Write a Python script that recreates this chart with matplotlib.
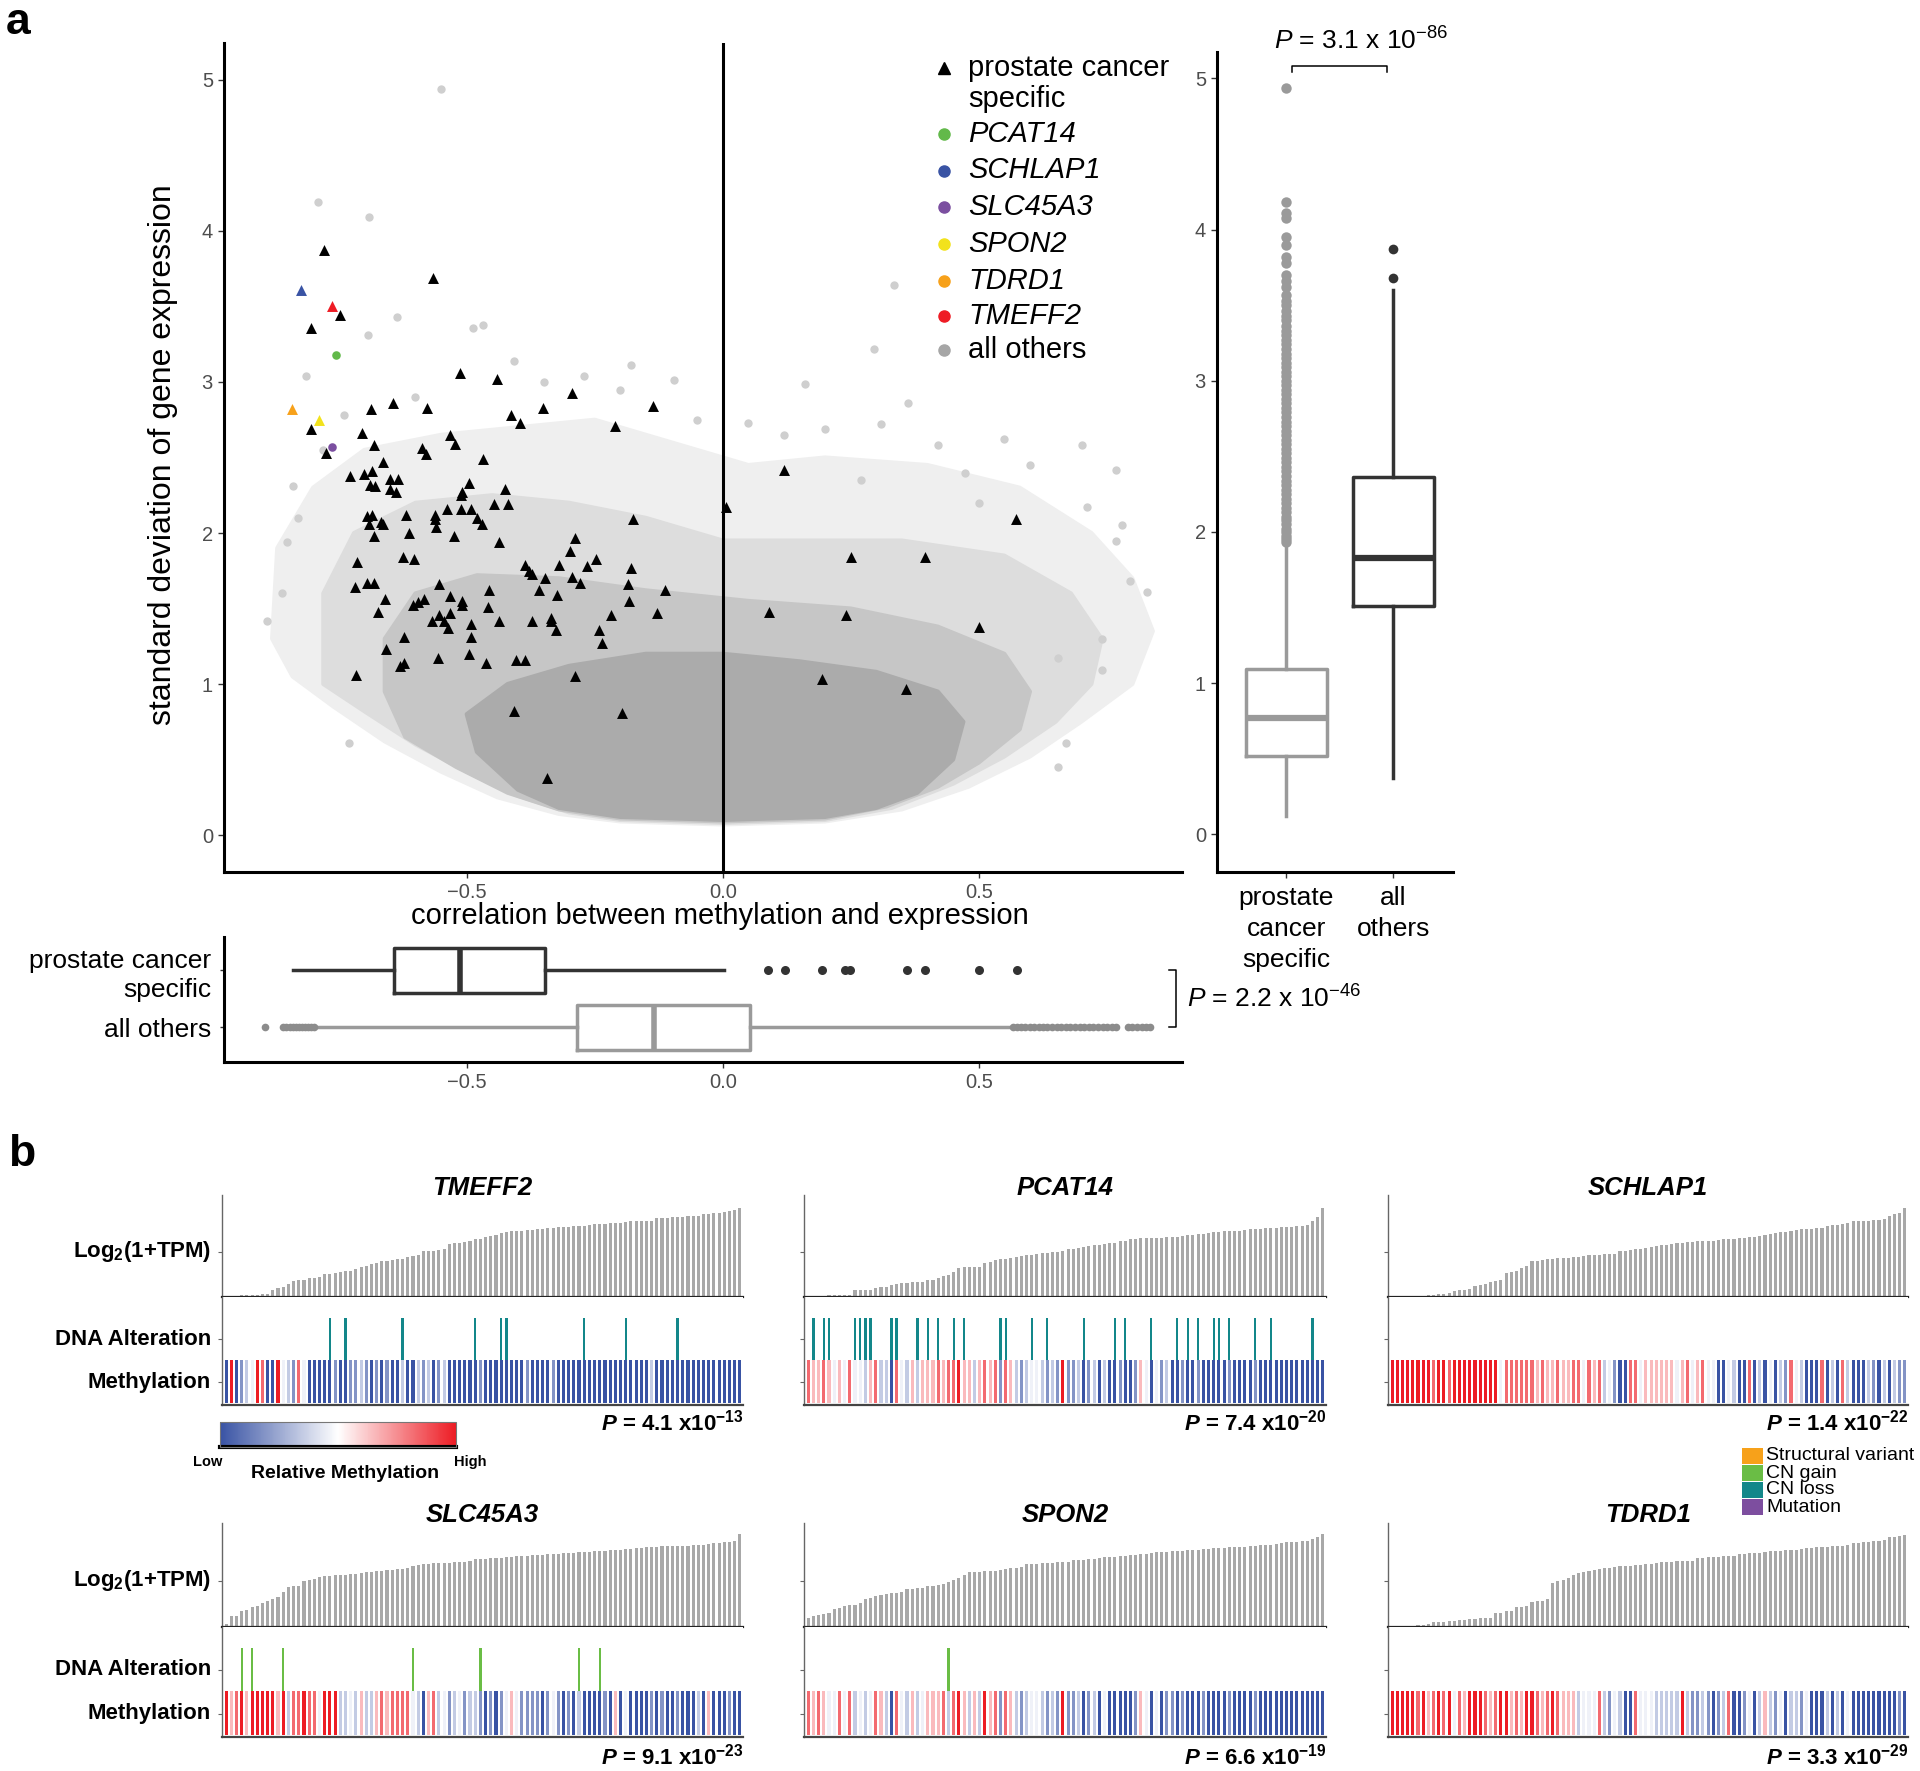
import numpy as np
import matplotlib
matplotlib.use("Agg")
import matplotlib.pyplot as plt
from matplotlib.lines import Line2D
from matplotlib.patches import Polygon, Rectangle
from matplotlib.colors import LinearSegmentedColormap, Normalize
from matplotlib.cm import ScalarMappable

plt.rcParams['font.family'] = ['Liberation Sans', 'DejaVu Sans']
plt.rcParams['mathtext.fontset'] = 'custom'
plt.rcParams['mathtext.rm'] = 'Liberation Sans'
plt.rcParams['mathtext.it'] = 'Liberation Sans:italic'
plt.rcParams['mathtext.bf'] = 'Liberation Sans:bold'
plt.rcParams['mathtext.bfit'] = 'Liberation Sans:bold:italic'

# ---------------- data: panel a ----------------
# prostate cancer specific genes (black triangles)
spec_corr = [-0.779, -0.566, -0.804, -0.748, -0.514, -0.441, -0.294, -0.136, -0.351, -0.687, -0.643, -0.577,
             -0.413, -0.395, -0.211, -0.804, -0.705, -0.532, -0.523, -0.681, -0.587, -0.580, -0.774, -0.468,
             -0.664, -0.727, -0.700, -0.684, -0.688, -0.679, -0.649, -0.634, -0.649, -0.639, -0.495, -0.509,
             -0.512, -0.425, -0.539, -0.512, -0.491, -0.446, -0.420, -0.562, -0.562, -0.480, -0.471, -0.694,
             -0.619, -0.684, -0.691, -0.667, -0.663, -0.559, -0.613, -0.682, -0.524, -0.437, -0.288, -0.176,
             0.006, 0.120, 0.572, 0.251, 0.396, -0.715, -0.625, -0.602, -0.298, -0.248, -0.387, -0.378,
             -0.265, -0.319, -0.372, -0.348, -0.294, -0.279, -0.179, -0.554, -0.456, -0.358, -0.324, -0.113,
             -0.718, -0.694, -0.682, -0.185, -0.660, -0.583, -0.595, -0.605, -0.532, -0.509, -0.509, -0.458,
             -0.184, -0.673, -0.554, -0.533, -0.568, -0.544, -0.437, -0.372, -0.336, -0.336, -0.491, -0.536,
             -0.325, -0.218, -0.128, -0.241, 0.090, 0.241, 0.501, -0.622, -0.491, -0.236, -0.658, -0.496,
             -0.556, -0.462, -0.404, -0.387, -0.623, -0.631, -0.717, -0.289, 0.193, 0.358, -0.408, -0.197,
             -0.343]
spec_sd = [3.875, 3.686, 3.36, 3.443, 3.06, 3.02, 2.93, 2.84, 2.83, 2.82, 2.86, 2.83,
           2.78, 2.73, 2.71, 2.69, 2.66, 2.65, 2.59, 2.58, 2.56, 2.52, 2.53, 2.49,
           2.47, 2.38, 2.39, 2.41, 2.32, 2.31, 2.36, 2.36, 2.29, 2.27, 2.33, 2.27,
           2.25, 2.29, 2.16, 2.16, 2.16, 2.19, 2.19, 2.12, 2.09, 2.10, 2.06, 2.11,
           2.12, 2.12, 2.06, 2.07, 2.06, 2.04, 2.00, 1.98, 1.98, 1.94, 1.97, 2.09,
           2.17, 2.42, 2.09, 1.84, 1.84, 1.81, 1.84, 1.83, 1.88, 1.83, 1.79, 1.75,
           1.78, 1.79, 1.73, 1.70, 1.71, 1.67, 1.77, 1.66, 1.62, 1.62, 1.59, 1.62,
           1.64, 1.67, 1.67, 1.66, 1.56, 1.56, 1.54, 1.52, 1.58, 1.55, 1.52, 1.51,
           1.55, 1.48, 1.46, 1.47, 1.42, 1.42, 1.42, 1.42, 1.44, 1.42, 1.40, 1.37,
           1.36, 1.46, 1.47, 1.36, 1.48, 1.46, 1.38, 1.31, 1.31, 1.27, 1.23, 1.20,
           1.17, 1.14, 1.16, 1.16, 1.14, 1.12, 1.06, 1.05, 1.03, 0.97, 0.82, 0.81,
           0.38]

hl_names = ['PCAT14', 'SCHLAP1', 'SLC45A3', 'SPON2', 'TDRD1', 'TMEFF2']
hl_corr = [-0.755, -0.824, -0.764, -0.789, -0.842, -0.764]
hl_sd = [3.18, 3.61, 2.57, 2.75, 2.82, 3.50]
hl_marker = ['o', '^', 'o', '^', '^', '^']
hl_colors = ['#62b94a', '#3953a4', '#7b4fa0', '#f2e21c', '#f7a11a', '#ee1c25']

# sparse "all others" genes outside the dense cloud
other_corr = [-0.551, -0.791, -0.690, 0.334, 0.295, -0.637, -0.693, -0.813, -0.488, -0.468, -0.408, -0.27,
              -0.18, -0.096, 0.161, 0.361, 0.702, 0.768, 0.712, 0.828, 0.795, -0.89, -0.851, -0.84,
              -0.73, 0.67, 0.655, 0.05, 0.2, 0.31, 0.474, 0.654, 0.741, 0.768, -0.86, -0.83, -0.78,
              -0.74, 0.12, 0.42, 0.55, 0.6, 0.78, 0.74, -0.2, -0.05, 0.27, 0.5, -0.35, -0.6]
other_sd = [4.94, 4.19, 4.09, 3.64, 3.22, 3.43, 3.31, 3.04, 3.36, 3.38, 3.14, 3.04,
            3.11, 3.01, 2.99, 2.86, 2.58, 2.42, 2.17, 1.61, 1.68, 1.42, 1.94, 2.31,
            0.61, 0.61, 0.45, 2.73, 2.69, 2.72, 2.40, 1.17, 1.09, 1.95, 1.6, 2.1, 2.55,
            2.78, 2.65, 2.58, 2.62, 2.45, 2.05, 1.3, 2.95, 2.75, 2.35, 2.2, 3.0, 2.9]

# outlines of the cloud of "all others" genes, from sparse (outer) to dense (core)
cloud_outer = [(-0.88, 1.3), (-0.84, 1.05), (-0.76, 0.85), (-0.66, 0.62), (-0.55, 0.42), (-0.44, 0.25),
               (-0.32, 0.14), (-0.2, 0.09), (0.0, 0.07), (0.2, 0.09), (0.35, 0.17), (0.48, 0.32),
               (0.6, 0.52), (0.7, 0.75), (0.8, 1.0), (0.84, 1.35), (0.8, 1.7), (0.72, 2.0), (0.58, 2.3),
               (0.4, 2.45), (0.2, 2.5), (0.05, 2.45), (-0.1, 2.6), (-0.25, 2.75), (-0.4, 2.7),
               (-0.55, 2.65), (-0.7, 2.55), (-0.8, 2.3), (-0.87, 1.9)]
cloud_mid = [(-0.78, 1.0), (-0.7, 0.82), (-0.6, 0.6), (-0.5, 0.42), (-0.4, 0.26), (-0.3, 0.15), (-0.2, 0.1),
             (0.0, 0.08), (0.2, 0.1), (0.33, 0.18), (0.45, 0.34), (0.55, 0.52), (0.65, 0.75), (0.72, 1.0),
             (0.74, 1.3), (0.68, 1.6), (0.55, 1.85), (0.35, 1.95), (0.15, 1.95), (0.0, 1.95), (-0.15, 2.1),
             (-0.3, 2.2), (-0.45, 2.25), (-0.6, 2.2), (-0.72, 2.0), (-0.78, 1.6)]
cloud_inner = [(-0.62, 0.65), (-0.52, 0.45), (-0.42, 0.28), (-0.32, 0.17), (-0.2, 0.11), (0.0, 0.09),
               (0.2, 0.11), (0.32, 0.19), (0.42, 0.32), (0.5, 0.48), (0.58, 0.7), (0.6, 0.95), (0.55, 1.2),
               (0.42, 1.38), (0.25, 1.5), (0.05, 1.55), (-0.15, 1.62), (-0.32, 1.7), (-0.48, 1.72),
               (-0.6, 1.6), (-0.66, 1.3), (-0.66, 0.95)]
cloud_core = [(-0.40, 0.30), (-0.32, 0.18), (-0.2, 0.12), (0.0, 0.1), (0.2, 0.12), (0.3, 0.18), (0.38, 0.28),
              (0.45, 0.5), (0.47, 0.75), (0.42, 0.95), (0.3, 1.08), (0.15, 1.15), (0.0, 1.2), (-0.15, 1.2),
              (-0.3, 1.12), (-0.42, 1.0), (-0.5, 0.8), (-0.48, 0.55)]

# boxplot summaries
sd_box_others = dict(med=0.77, q1=0.52, q3=1.09, whislo=0.12, whishi=1.93,
                     fliers=[1.93, 1.95, 1.97, 2.0, 2.02, 2.05, 2.08, 2.1, 2.13, 2.16, 2.19, 2.22, 2.25,
                             2.28, 2.31, 2.34, 2.37, 2.4, 2.43, 2.46, 2.49, 2.52, 2.55, 2.58, 2.61, 2.64,
                             2.67, 2.7, 2.73, 2.76, 2.79, 2.82, 2.85, 2.88, 2.91, 2.94, 2.97, 3.0, 3.03,
                             3.06, 3.09, 3.12, 3.15, 3.18, 3.21, 3.24, 3.27, 3.3, 3.33, 3.36, 3.4, 3.43,
                             3.46, 3.5, 3.53, 3.57, 3.62, 3.66, 3.7, 3.78, 3.82, 3.9, 3.95, 4.08, 4.11,
                             4.18, 4.94])
sd_box_spec = dict(med=1.83, q1=1.51, q3=2.36, whislo=0.37, whishi=3.6, fliers=[3.68, 3.87])

corr_box_spec = dict(med=-0.514, q1=-0.642, q3=-0.348, whislo=-0.84, whishi=0.003,
                     fliers=[0.089, 0.122, 0.193, 0.239, 0.248, 0.36, 0.396, 0.50, 0.574])
corr_box_others = dict(med=-0.134, q1=-0.285, q3=0.054, whislo=-0.797, whishi=0.565,
                       fliers=[-0.893, -0.858, -0.852, -0.846, -0.840, -0.834, -0.828, -0.822, -0.816,
                               -0.810, -0.804, -0.798, 0.567, 0.575, 0.583, 0.591, 0.600, 0.608, 0.617,
                               0.626, 0.634, 0.643, 0.652, 0.661, 0.670, 0.679, 0.688, 0.697, 0.706,
                               0.715, 0.724, 0.733, 0.742, 0.751, 0.760, 0.769, 0.792, 0.800, 0.809,
                               0.818, 0.827, 0.834])

# ---------------- data: panel b ----------------
genes = ['TMEFF2', 'PCAT14', 'SCHLAP1', 'SLC45A3', 'SPON2', 'TDRD1']
pvals = [('4.1', '-13'), ('7.4', '-20'), ('1.4', '-22'), ('9.1', '-23'), ('6.6', '-19'), ('3.3', '-29')]

# sorted expression per sample, relative units (Log2(1+TPM) axis has no scale)
expr = {
    'TMEFF2': [0, 0, 4, 5, 5, 6, 6, 8, 10, 20, 28, 30, 40, 48, 50, 52, 56, 58, 60, 68,
               70, 72, 76, 78, 80, 86, 90, 94, 100, 104, 108, 110, 112, 114, 116, 122, 124, 128, 138, 140,
               140, 142, 144, 160, 162, 164, 166, 168, 174, 176, 180, 184, 188, 192, 195, 198, 199, 200, 201, 202,
               204, 205, 208, 209, 210, 211, 212, 213, 214, 215, 217, 219, 220, 221, 222, 223, 224, 225, 228, 229,
               230, 230, 231, 238, 239, 240, 241, 242, 243, 244, 244, 245, 250, 251, 253, 255, 258, 261, 264, 268],
    'PCAT14': [0, 0, 0, 4, 5, 5, 6, 7, 7, 20, 22, 22, 22, 28, 29, 29, 36, 38, 42, 43,
               44, 45, 46, 50, 52, 58, 62, 66, 76, 88, 90, 90, 90, 91, 102, 106, 112, 114, 116, 118,
               122, 124, 126, 128, 130, 132, 134, 136, 137, 140, 144, 146, 148, 152, 154, 156, 158, 160, 162, 164,
               168, 170, 174, 176, 177, 178, 178, 179, 179, 180, 180, 182, 184, 186, 188, 190, 191, 192, 196, 197,
               198, 199, 200, 200, 201, 204, 205, 206, 207, 208, 209, 210, 211, 212, 213, 214, 218, 228, 242, 269],
    'SCHLAP1': [0, 0, 0, 0, 0, 0, 0, 6, 7, 8, 10, 12, 18, 20, 22, 25, 34, 37, 40, 46,
                48, 52, 72, 74, 78, 87, 95, 108, 110, 112, 114, 116, 117, 118, 119, 120, 121, 124, 126, 127,
                128, 129, 130, 130, 138, 140, 142, 144, 146, 148, 152, 154, 156, 158, 160, 162, 164, 166, 167, 168,
                169, 170, 170, 172, 174, 175, 176, 177, 178, 180, 182, 184, 186, 190, 192, 195, 197, 199, 202, 204,
                205, 206, 208, 209, 214, 216, 218, 221, 224, 228, 229, 230, 231, 232, 234, 236, 246, 250, 254, 268],
    'SLC45A3': [8, 32, 34, 48, 50, 58, 62, 70, 78, 82, 90, 104, 118, 120, 120, 136, 140, 142, 148, 150,
                152, 153, 154, 155, 156, 157, 160, 162, 164, 165, 166, 168, 170, 171, 172, 174, 180, 183, 186, 188,
                189, 190, 190, 191, 192, 192, 193, 194, 200, 201, 202, 203, 204, 205, 207, 208, 209, 210, 211, 212,
                213, 214, 215, 216, 217, 218, 219, 220, 221, 222, 223, 224, 225, 226, 227, 228, 229, 231, 232, 234,
                235, 236, 237, 238, 239, 239, 240, 240, 241, 241, 242, 242, 244, 246, 248, 250, 252, 253, 256, 275],
    'SPON2': [26, 32, 37, 39, 41, 52, 55, 62, 64, 66, 70, 82, 85, 92, 94, 98, 100, 101, 103, 112,
              114, 115, 116, 120, 122, 125, 128, 132, 138, 146, 155, 162, 163, 164, 165, 166, 167, 168, 172, 174,
              176, 178, 186, 187, 188, 189, 190, 191, 192, 192, 193, 197, 198, 199, 201, 202, 205, 206, 207, 208,
              209, 210, 212, 214, 215, 216, 218, 221, 222, 223, 224, 225, 226, 227, 228, 229, 230, 232, 233, 234,
              235, 236, 236, 237, 238, 240, 241, 242, 243, 244, 246, 250, 251, 252, 253, 254, 256, 260, 266, 276],
    'TDRD1': [0, 0, 0, 0, 1, 5, 7, 9, 14, 15, 16, 17, 18, 20, 21, 24, 25, 26, 27, 28,
              40, 41, 47, 48, 58, 60, 61, 74, 76, 78, 82, 130, 135, 138, 145, 153, 160, 162, 165, 170,
              172, 174, 176, 178, 180, 181, 182, 184, 185, 186, 188, 191, 192, 193, 193, 194, 194, 195, 195, 204,
              205, 206, 207, 208, 209, 210, 211, 215, 216, 218, 219, 220, 223, 224, 225, 226, 227, 228, 229, 230,
              234, 235, 236, 237, 238, 239, 240, 241, 243, 248, 250, 252, 253, 255, 256, 258, 266, 268, 270, 271],
}

# relative methylation per sample, same order (B blue ... w white ... R red)
meth_levels = {'B': -1.0, 'b': -0.62, 'l': -0.3, 'w': -0.08, 'p': 0.3, 'r': 0.65, 'R': 1.0}
meth = {
    'TMEFF2': 'BRBblwRrBBRwlbrw' 'BBBBBbBBbblbBbBbBB' 'lBBlblBbl' 'BBBBBBbBBBBB'
              'BBBbBBBBbBBBBBBBBBBBBBBBBBB' 'l' 'BBBBBBBBBBBBBBBBB',
    'PCAT14': 'rpprpwpwrw' 'wlprllBrwl' 'plppprprrR' 'pplprprbrp' 'lblwwlblbR'
              'bblBblBlBB' 'bBBbpwBwbl' 'BBbBBbBBBB' 'BbBBBBbBBB' 'BBBBBBBBBB',
    'SCHLAP1': 'RRRRRRRR' 'rRRrRRRRRRRRR' 'wrrrrrr' 'prpprpprr' 'w' 'rprlw' 'bBBrrw' 'ppppppwp'
               'rwprww' 'BBw' 'lBBrBlB' 'wBlbr' 'wlBBBr' 'BlBrl' 'BBBlbBl' 'Blbb',
    'SLC45A3': 'RprRpRRRRR' 'pRlrrRrrwR' 'RRllwlpllp' 'rprrrrwlBp' 'rlwblwbllb'
               'BbBbwpwbbb' 'bBbwbBbBlB' 'BBBbBpBwBB' 'BBbBbBBbBB' 'BlBpBBBbBB',
    'SPON2': 'rprpwwrwrl' 'wlwrplBrwl' 'plwppprlrR' 'plplRprbrp' 'lblwwlblbR'
             'bblBblBwBB' 'BBBbpwBwBb' 'bBbBBBbBBB' 'BbBBBBbBBB' 'BBBBBBBBBB',
    'TDRD1': 'RRRRRrRprR' 'rRwrpRRRrp' 'rRRprpRRrp' 'rRrppplwww' 'rlbwlBBrww'
             'wlllllRlbb' 'lbBblrBBbw' 'BlplbwBllb' 'wBBBlBlBwB' 'BBBBBBBBbB',
}

# DNA alterations (sample index, type)
alterations = {
    'TMEFF2': ('CN loss', [20, 23, 34, 48, 53, 54, 69, 77, 87]),
    'PCAT14': ('CN loss', [1, 3, 4, 9, 10, 11, 12, 16, 17, 21, 23, 25, 28, 30, 37, 38, 43, 46, 53, 59,
                           61, 66, 71, 73, 75, 78, 79, 81, 86, 89, 97]),
    'SCHLAP1': ('CN loss', []),
    'SLC45A3': ('CN gain', [3, 5, 11, 36, 49, 68, 72]),
    'SPON2': ('CN gain', [27]),
    'TDRD1': ('CN loss', []),
}
alt_types = ['Structural variant', 'CN gain', 'CN loss', 'Mutation']
alt_colors = {'Structural variant': '#f7a11a', 'CN gain': '#6abd45', 'CN loss': '#13878a', 'Mutation': '#7d4e9f'}

# ---------------- figure ----------------
W, H = 1920, 1771
fig = plt.figure(figsize=(W / 100, H / 100), dpi=100)


def box(x0, y0, x1, y1):
    return fig.add_axes([x0 / W, 1 - y1 / H, (x1 - x0) / W, (y1 - y0) / H])


def fx(p):
    return p / W


def fy(p):
    return 1 - p / H


TICKGREY = '#4d4d4d'

# ---- scatter ----
ax = box(224, 43, 1182, 872)
for verts, col in zip([cloud_outer, cloud_mid, cloud_inner, cloud_core],
                      ['#efefef', '#dddddd', '#c6c6c6', '#ababab']):
    ax.add_patch(Polygon(verts, closed=True, fc=col, ec=col, lw=3, joinstyle='round', zorder=1))
ax.scatter(other_corr, other_sd, s=36, c='#cfcfcf', lw=0, zorder=1.5)
ax.axvline(0, color='black', lw=2.2, zorder=2)
ax.scatter(spec_corr, spec_sd, marker='^', s=62, c='black', lw=0, zorder=3)
for xv, yv, m, c in zip(hl_corr, hl_sd, hl_marker, hl_colors):
    ax.scatter([xv], [yv], marker=m, s=62 if m == '^' else 38, c=c, lw=0, zorder=4)
ax.set_xlim(-0.974, 0.897)
ax.set_ylim(-0.245, 5.245)
for s in ['top', 'right']:
    ax.spines[s].set_visible(False)
for s in ['left', 'bottom']:
    ax.spines[s].set_linewidth(2.2)
ax.set_xticks([-0.5, 0, 0.5], ['\u22120.5', '0.0', '0.5'])
ax.set_yticks(range(6))
ax.tick_params(labelsize=14.5, labelcolor=TICKGREY, color='#333333', length=4, width=1, pad=4)
fig.text(fx(163), fy(455), 'standard deviation of gene expression', rotation=90,
         ha='center', va='center', fontsize=23)
fig.text(fx(720), fy(916), 'correlation between methylation and expression',
         ha='center', va='center', fontsize=21)

# legend
leg_x, leg_tx = 943.6, 968
fig.add_artist(Line2D([fx(leg_x)], [fy(67.7)], marker='^', color='black', ms=9, ls='none',
                      transform=fig.transFigure))
fig.text(fx(leg_tx), fy(67.7), 'prostate cancer', ha='left', va='center', fontsize=21)
fig.text(fx(leg_tx), fy(99.3), 'specific', ha='left', va='center', fontsize=21)
leg_y = [133.8, 170.5, 206.7, 244.0, 280.7, 316.3, 350.0]
for name, col, yy in zip(hl_names + ['all others'], hl_colors + ['#a6a6a6'], leg_y):
    fig.add_artist(Line2D([fx(leg_x)], [fy(yy)], marker='o', color=col, ms=8, ls='none',
                          transform=fig.transFigure))
    fig.text(fx(leg_tx), fy(yy), name, ha='left', va='center', fontsize=21,
             style='normal' if name == 'all others' else 'italic')

# ---- right boxplot (sd) ----
axr = box(1217, 52, 1453, 872)
axr.bxp([sd_box_others], positions=[1], widths=0.76, showcaps=False,
        boxprops=dict(color='#9a9a9a', lw=2.5), whiskerprops=dict(color='#9a9a9a', lw=2.5),
        medianprops=dict(color='#9a9a9a', lw=4.5),
        flierprops=dict(marker='o', mfc='#9a9a9a', mec='none', ms=7.5))
axr.bxp([sd_box_spec], positions=[2], widths=0.76, showcaps=False,
        boxprops=dict(color='#333333', lw=2.5), whiskerprops=dict(color='#333333', lw=2.5),
        medianprops=dict(color='#333333', lw=4.5),
        flierprops=dict(marker='o', mfc='#333333', mec='none', ms=7))
axr.set_xlim(0.35, 2.56)
axr.set_ylim(-0.25, 5.175)
for s in ['top', 'right']:
    axr.spines[s].set_visible(False)
for s in ['left', 'bottom']:
    axr.spines[s].set_linewidth(2.2)
axr.set_yticks(range(6))
axr.set_xticks([1, 2], ['prostate\ncancer\nspecific', 'all\nothers'])
for t in axr.get_xticklabels():
    t.set_linespacing(1.38)
axr.tick_params(axis='y', labelsize=14.5, labelcolor=TICKGREY, color='#333333', length=4, width=1, pad=4)
axr.tick_params(axis='x', labelsize=19, color='#333333', length=4, width=1, pad=6)
axr.plot([1.05, 1.05, 1.94, 1.94], [5.04, 5.08, 5.08, 5.04], color='black', lw=1.1, clip_on=False)
axr.text(1.70, 5.245, r'$\it{P}$ = 3.1 x 10$^{-86}$', ha='center', va='center', fontsize=19,
         clip_on=False)

# ---- bottom boxplot (correlation) ----
axb = box(224, 937, 1182, 1062)
axb.bxp([corr_box_spec], positions=[2], widths=0.79, showcaps=False, orientation='horizontal',
        boxprops=dict(color='#333333', lw=2.5), whiskerprops=dict(color='#333333', lw=2.5),
        medianprops=dict(color='#333333', lw=4),
        flierprops=dict(marker='o', mfc='#333333', mec='none', ms=6.5))
axb.bxp([corr_box_others], positions=[1], widths=0.79, showcaps=False, orientation='horizontal',
        boxprops=dict(color='#9a9a9a', lw=2.5), whiskerprops=dict(color='#9a9a9a', lw=2.5),
        medianprops=dict(color='#9a9a9a', lw=4),
        flierprops=dict(marker='o', mfc='#8c8c8c', mec='none', ms=5.5))
axb.set_xlim(-0.974, 0.897)
axb.set_ylim(0.386, 2.58)
for s in ['top', 'right']:
    axb.spines[s].set_visible(False)
for s in ['left', 'bottom']:
    axb.spines[s].set_linewidth(2.2)
axb.set_xticks([-0.5, 0, 0.5], ['\u22120.5', '0.0', '0.5'])
axb.set_yticks([2, 1], ['prostate cancer\nspecific', 'all others'])
for t in axb.get_yticklabels():
    t.set_linespacing(1.3)
axb.tick_params(axis='x', labelsize=14.5, labelcolor=TICKGREY, color='#333333', length=4, width=1, pad=4)
axb.tick_params(axis='y', labelsize=19, color='#333333', length=3, width=1, pad=6)
axb.plot([0.871, 0.885, 0.885, 0.871], [2, 2, 1, 1], color='black', lw=1.1, clip_on=False)
axb.text(0.907, 1.5, r'$\it{P}$ = 2.2 x 10$^{-46}$', ha='left', va='center', fontsize=19, clip_on=False)

fig.text(fx(6), fy(2), 'a', ha='left', va='top', fontsize=32, fontweight='bold')
fig.text(fx(8), fy(1134), 'b', ha='left', va='top', fontsize=32, fontweight='bold')

# ---------------- panel b ----------------
cmap = LinearSegmentedColormap.from_list('meth', ['#3953a4', '#ffffff', '#ed1c24'])
norm = Normalize(-1, 1)
cols_px = [(222, 743), (804, 1326), (1388, 1908)]
rows_px = [dict(title=1188, top=1195, mid=1297, bot=1405, p=1423),
           dict(title=1515, top=1523, mid=1627, bot=1737, p=1757)]

for i, g in enumerate(genes):
    r, c = divmod(i, 3)
    x0, x1 = cols_px[c]
    rp = rows_px[r]
    vals = expr[g]
    xs = np.arange(len(vals))

    a1 = box(x0, rp['top'], x1, rp['mid'])
    a1.bar(xs, vals, width=0.6, color='#a8a8a8', lw=0)
    a1.set_xlim(-0.8, 99.6)
    a1.set_ylim(0, 308)
    a1.spines[['top', 'right']].set_visible(False)
    a1.spines['left'].set_color('#666666')
    a1.spines['left'].set_linewidth(1)
    a1.spines['bottom'].set_color('#222222')
    a1.spines['bottom'].set_linewidth(1.6)
    a1.set_xticks([])
    a1.set_yticks([137], [''])
    a1.tick_params(axis='y', length=3, color='#666666')

    a2 = box(x0, rp['mid'], x1, rp['bot'])
    mvals = [meth_levels[ch] for ch in meth[g]]
    a2.bar(np.arange(len(mvals)), 0.4, bottom=0.02, width=0.6, color=cmap(norm(mvals)), lw=0)
    kind, idx = alterations[g]
    if idx:
        a2.bar(idx, 0.39, bottom=0.42, width=0.45, color=alt_colors[kind], lw=0)
    a2.set_xlim(-0.8, 99.6)
    a2.set_ylim(0, 1)
    a2.spines[['top', 'right']].set_visible(False)
    a2.spines['left'].set_color('#666666')
    a2.spines['left'].set_linewidth(1)
    a2.spines['bottom'].set_color('#444444')
    a2.spines['bottom'].set_linewidth(1.6)
    a2.set_xticks([])
    a2.set_yticks([0.21, 0.61], ['', ''])
    a2.tick_params(axis='y', length=3, color='#666666')

    fig.text(fx((x0 + x1) / 2), fy(rp['title']), g, ha='center', va='center', fontsize=18.5,
             fontweight='bold', style='italic')
    mant, ex = pvals[i]
    fig.text(fx(x1), fy(rp['p']), r'$\mathbfit{P}$ = ' + mant + r' x10$^{\mathbf{' + ex + '}}$',
             ha='right', va='center', fontsize=16, fontweight='bold')

    if c == 0:
        h_top, h_mid, h_bot = rp['top'], rp['mid'], rp['bot']
        ytpm = h_mid - 0.45 * (h_mid - h_top)
        yalt = h_bot - 0.61 * (h_bot - h_mid)
        ymet = h_bot - 0.21 * (h_bot - h_mid)
        fig.text(fx(211), fy(ytpm), r'Log$_{\mathbf{2}}$(1+TPM)', ha='right', va='center',
                 fontsize=16, fontweight='bold')
        fig.text(fx(211), fy(yalt), 'DNA Alteration', ha='right', va='center', fontsize=16,
                 fontweight='bold')
        fig.text(fx(211), fy(ymet), 'Methylation', ha='right', va='center', fontsize=16,
                 fontweight='bold')

# colour bar
cax = box(220, 1422, 456, 1447)
cb = fig.colorbar(ScalarMappable(norm=norm, cmap=cmap), cax=cax, orientation='horizontal')
cb.set_ticks([])
cb.outline.set_edgecolor('#777777')
cb.outline.set_linewidth(0.8)
cax.axhline(0, color='black', lw=3, clip_on=False)
fig.text(fx(208), fy(1462), 'Low', ha='center', va='center', fontsize=10.5, fontweight='bold')
fig.text(fx(470), fy(1462), 'High', ha='center', va='center', fontsize=10.5, fontweight='bold')
fig.text(fx(345), fy(1473), 'Relative Methylation', ha='center', va='center', fontsize=14,
         fontweight='bold')

# alteration legend
for name, yy in zip(alt_types, [1456, 1473, 1490, 1507]):
    fig.add_artist(Rectangle((fx(1742), fy(yy + 8)), 21 / W, 16 / H, transform=fig.transFigure,
                             color=alt_colors[name], lw=0))
    fig.text(fx(1766), fy(yy), name, ha='left', va='center', fontsize=14)

fig.savefig('out.png', dpi=100)
